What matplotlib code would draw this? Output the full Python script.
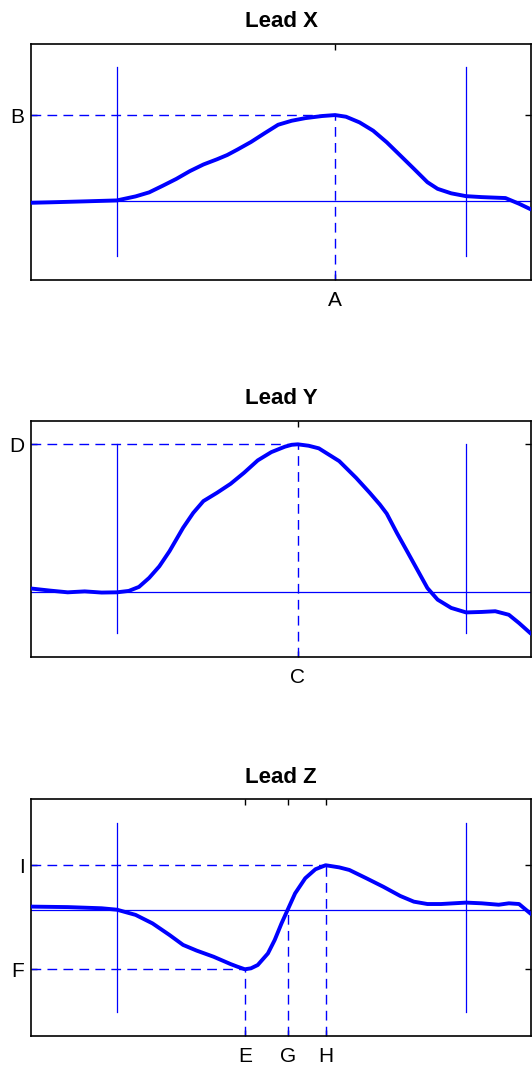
import matplotlib
matplotlib.use('Agg')
import matplotlib.pyplot as plt

plt.rcParams['font.family'] = ['Liberation Sans', 'DejaVu Sans']

# Lead X trace (time units 0-1000, amplitude 0-100)
t_x = [0, 38.7, 106.7, 171.2, 208.6, 235.7, 262.9, 290.1, 317.3, 344.4, 371.6,
       392.0, 412.4, 439.5, 466.7, 493.9, 521.1, 548.2, 582.2, 608.0, 629.8,
       656.9, 684.1, 711.3, 738.5, 765.6, 792.8, 813.2, 840.4, 870.2, 901.5,
       949.0, 976.2, 1000]
v_x = [32.7, 32.9, 33.3, 33.7, 35.4, 37.1, 39.9, 42.8, 46.1, 48.9, 51.1,
       52.9, 55.2, 58.4, 62.1, 65.7, 67.4, 68.5, 69.4, 69.8, 69.1,
       66.7, 63.2, 58.3, 52.7, 47.1, 41.4, 38.6, 36.7, 35.5, 35.1,
       34.7, 32.3, 29.9]

# Lead Y trace
t_y = [0, 38.7, 72.7, 106.7, 140.6, 171.2, 195.0, 215.4, 235.7, 256.1, 276.5,
       303.7, 324.0, 344.4, 371.6, 398.8, 425.9, 453.1, 480.3, 507.5, 521.1,
       533.3, 555.0, 575.4, 616.2, 650.1, 677.3, 697.7, 711.3, 731.7, 752.0,
       772.4, 792.8, 813.2, 840.4, 870.2, 901.5, 928.6, 955.8, 976.2, 1000]
v_y = [29.0, 28.1, 27.4, 27.8, 27.3, 27.4, 28.0, 29.7, 33.5, 38.4, 44.8,
       54.7, 61.0, 66.0, 69.5, 73.3, 78.0, 83.2, 86.7, 89.0, 89.8,
       90.0, 89.4, 88.3, 82.9, 75.8, 69.5, 64.5, 60.7, 52.5, 44.8,
       37.0, 29.2, 24.3, 20.8, 18.9, 19.1, 19.4, 17.9, 14.4, 9.9]

# Lead Z trace
t_z = [0, 72.7, 140.6, 171.2, 208.6, 242.5, 276.5, 303.7, 330.8, 364.8, 398.8,
       412.4, 427.3, 439.5, 453.1, 473.5, 487.1, 500.7, 512.9, 527.9, 548.2,
       568.6, 589.0, 616.2, 636.5, 670.5, 704.5, 738.5, 765.6, 792.8, 820.0,
       870.2, 901.5, 935.5, 955.8, 976.2, 1000]
v_z = [54.6, 54.4, 53.9, 53.3, 51.1, 47.5, 42.6, 38.4, 36.0, 33.4, 30.3,
       29.2, 28.1, 28.5, 29.9, 34.8, 40.5, 47.5, 53.2, 60.2, 66.6,
       70.4, 72.1, 71.2, 70.1, 66.6, 63.0, 59.1, 56.7, 55.7, 55.7,
       56.3, 56.0, 55.4, 56.0, 55.7, 51.5]

# baselines and onset/offset markers
baselines = [33.6, 27.5, 53.2]
onset_offset = [171.2, 870.2]
marker_span = [10, 90]

# labelled points
A, B = 608.0, 69.8
C, D = 533.3, 90.0
E, F = 427.3, 28.1
G = 512.9
H, I = 589.0, 72.1

titles = ['Lead X', 'Lead Y', 'Lead Z']
bottoms = [0.737, 0.383, 0.0275]

fig = plt.figure(figsize=(5.32, 10.65), dpi=100)
axes = [fig.add_axes([0.059, b, 0.939, 0.222]) for b in bottoms]

dash = dict(color='b', lw=1, dashes=(7, 4.5))
thin = dict(color='b', lw=0.9)

for ax, t, v, base, title in zip(axes, [t_x, t_y, t_z], [v_x, v_y, v_z],
                                 baselines, titles):
    ax.axhline(base, **thin)
    for x in onset_offset:
        ax.plot([x, x], marker_span, **thin)
    ax.plot(t, v, color='b', lw=2.8, zorder=5,
            solid_joinstyle='round', solid_capstyle='round')
    ax.set_xlim(0, 1000)
    ax.set_ylim(0, 100)
    ax.set_title(title, fontsize=16, fontweight='bold', pad=12)
    ax.tick_params(direction='in', top=True, right=True, length=4, width=1,
                   labelsize=15)
    ax.tick_params(axis='x', pad=8)
    ax.tick_params(axis='y', pad=5)
    for s in ax.spines.values():
        s.set_linewidth(1.2)

# Lead X
ax = axes[0]
ax.plot([0, A], [B, B], **dash)
ax.plot([A, A], [0, B], **dash)
ax.set_xticks([A], ['A'])
ax.set_yticks([B], ['B'])

# Lead Y
ax = axes[1]
ax.plot([0, C], [D, D], **dash)
ax.plot([C, C], [0, D], **dash)
ax.set_xticks([C], ['C'])
ax.set_yticks([D], ['D'])

# Lead Z
ax = axes[2]
ax.plot([0, H], [I, I], **dash)
ax.plot([0, E], [F, F], **dash)
ax.plot([E, E], [0, F], **dash)
ax.plot([G, G], [0, baselines[2]], **dash)
ax.plot([H, H], [0, I], **dash)
ax.set_xticks([E, G, H], ['E', 'G', 'H'])
ax.set_yticks([F, I], ['F', 'I'])

fig.savefig('out.png', dpi=100)
